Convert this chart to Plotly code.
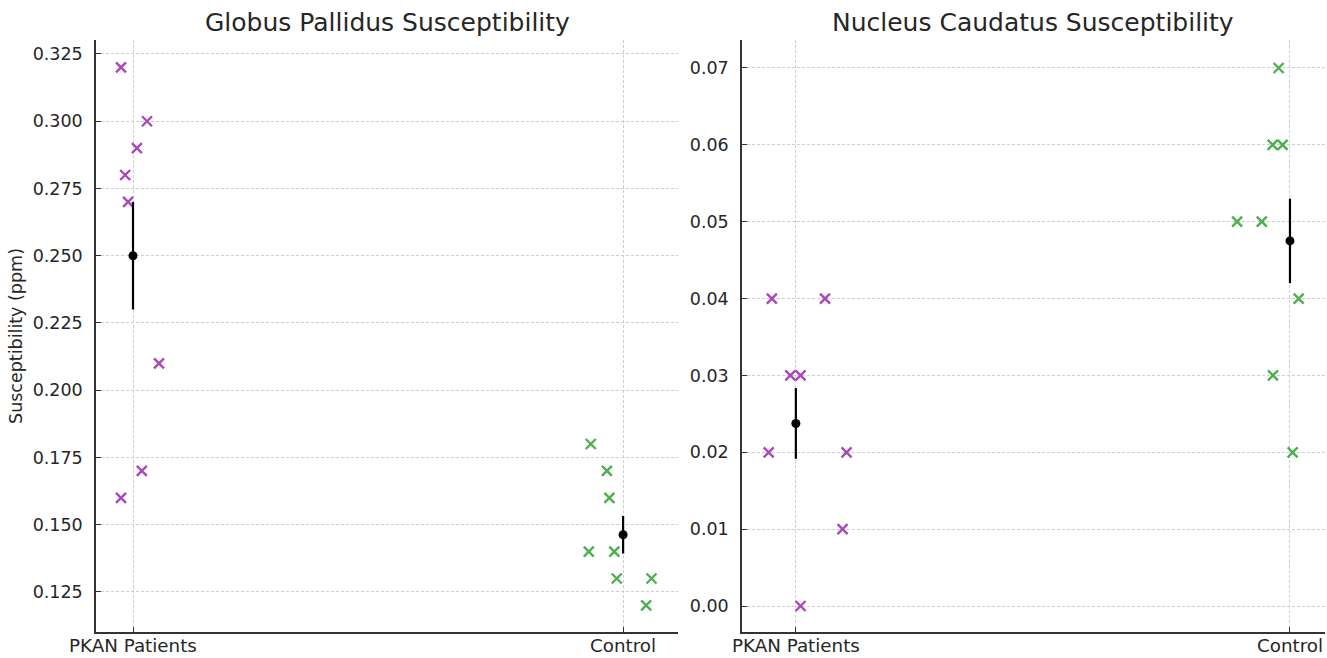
import plotly.graph_objects as go
from plotly.subplots import make_subplots

categories = ["PKAN Patients", "Control"]

# Globus Pallidus
gp_pkan_vals = [0.32, 0.28, 0.27, 0.29, 0.30, 0.21, 0.17, 0.16]
gp_pkan_jit = [-0.0245, -0.016, -0.010, 0.008, 0.0286, 0.053, 0.018, -0.0245]
gp_ctrl_vals = [0.18, 0.17, 0.16, 0.14, 0.14, 0.13, 0.13, 0.12]
gp_ctrl_jit = [-0.066, -0.033, -0.028, -0.070, -0.018, -0.013, 0.058, 0.047]
gp_err = [0.02, 0.007]

# Nucleus Caudatus
nc_pkan_vals = [0.04, 0.04, 0.03, 0.03, 0.02, 0.02, 0.01, 0.00]
nc_pkan_jit = [-0.0486, 0.059, -0.011, 0.0095, -0.055, 0.1026, 0.0945, 0.0095]
nc_ctrl_vals = [0.07, 0.06, 0.06, 0.05, 0.05, 0.04, 0.03, 0.02]
nc_ctrl_jit = [-0.023, -0.035, -0.015, -0.107, -0.057, 0.0176, -0.0344, 0.0054]
nc_err = [0.0046, 0.0055]

titles = ["Globus Pallidus Susceptibility", "Nucleus Caudatus Susceptibility"]
purple = "#AB47BC"
green = "#4CAF50"
FONT = "DejaVu Sans"
TXT = "#262626"

D1 = [0, 0.47356]
D2 = [0.52563, 1]

fig = make_subplots(rows=1, cols=2, horizontal_spacing=0.052)

def add_panel(col, pk_vals, pk_jit, ct_vals, ct_jit, err):
    for idx, (vals, jit, color) in enumerate([(pk_vals, pk_jit, purple), (ct_vals, ct_jit, green)]):
        fig.add_trace(go.Scatter(
            x=[idx + j for j in jit], y=vals, mode="markers",
            marker=dict(symbol="x-thin", size=10, color=color, line=dict(width=2.4, color=color)),
            showlegend=False, hoverinfo="y"), row=1, col=col)
    means = [sum(pk_vals) / len(pk_vals), sum(ct_vals) / len(ct_vals)]
    fig.add_trace(go.Scatter(
        x=[0, 1], y=means, mode="markers",
        marker=dict(symbol="circle", size=9, color="black"),
        error_y=dict(type="data", array=err, color="black", thickness=2.2, width=0),
        showlegend=False), row=1, col=col)
    # category labels under the x axis
    xref = "x" if col == 1 else "x2"
    for i, c in enumerate(categories):
        fig.add_annotation(text=c, x=i, y=0, xref=xref, yref="paper",
                           xanchor="center", yanchor="top", yshift=-1, showarrow=False,
                           font=dict(family=FONT, size=18.3, color=TXT))

add_panel(1, gp_pkan_vals, gp_pkan_jit, gp_ctrl_vals, gp_ctrl_jit, gp_err)
add_panel(2, nc_pkan_vals, nc_pkan_jit, nc_ctrl_vals, nc_ctrl_jit, nc_err)

axis_common = dict(
    showline=True, linecolor="#333333", linewidth=1.5, mirror=False,
    ticks="inside", ticklen=5, tickcolor="#333333", tickwidth=1.3,
    showgrid=True, gridcolor="#cfcfcf", griddash="3px,2px", gridwidth=1,
    zeroline=False, tickfont=dict(family=FONT, size=17.5, color=TXT),
)

fig.update_xaxes(**axis_common)
fig.update_xaxes(tickvals=[0, 1], showticklabels=False)
fig.update_xaxes(range=[-0.0755, 1.112], domain=D1, row=1, col=1)
fig.update_xaxes(range=[-0.109, 1.0709], domain=D2, row=1, col=2)

fig.update_yaxes(**axis_common, ticklabelstandoff=8)
fig.update_yaxes(range=[0.1101, 0.3302], tickvals=[0.125, 0.15, 0.175, 0.2, 0.225, 0.25, 0.275, 0.3, 0.325],
                 tickformat=".3f",
                 title=dict(text="Susceptibility (ppm)", font=dict(family=FONT, size=17.5, color=TXT), standoff=6),
                 row=1, col=1)
fig.update_yaxes(range=[-0.00338, 0.07364], tickvals=[0, 0.01, 0.02, 0.03, 0.04, 0.05, 0.06, 0.07],
                 tickformat=".2f", row=1, col=2)

for i, t in enumerate(titles):
    xc = [(D1[0] + D1[1]) / 2, (D2[0] + D2[1]) / 2][i]
    fig.add_annotation(text=t, x=xc, y=1.0, xref="paper", yref="paper",
                       xanchor="center", yanchor="bottom", yshift=1, showarrow=False,
                       font=dict(family=FONT, size=25, color=TXT))

fig.update_layout(
    width=1327, height=658,
    margin=dict(l=96, r=2, t=40, b=26, autoexpand=False),
    plot_bgcolor="white", paper_bgcolor="white",
    font=dict(family=FONT),
)

fig.write_html("out.html", config={"displayModeBar": False},
               post_script="document.body.style.margin='0px';")
